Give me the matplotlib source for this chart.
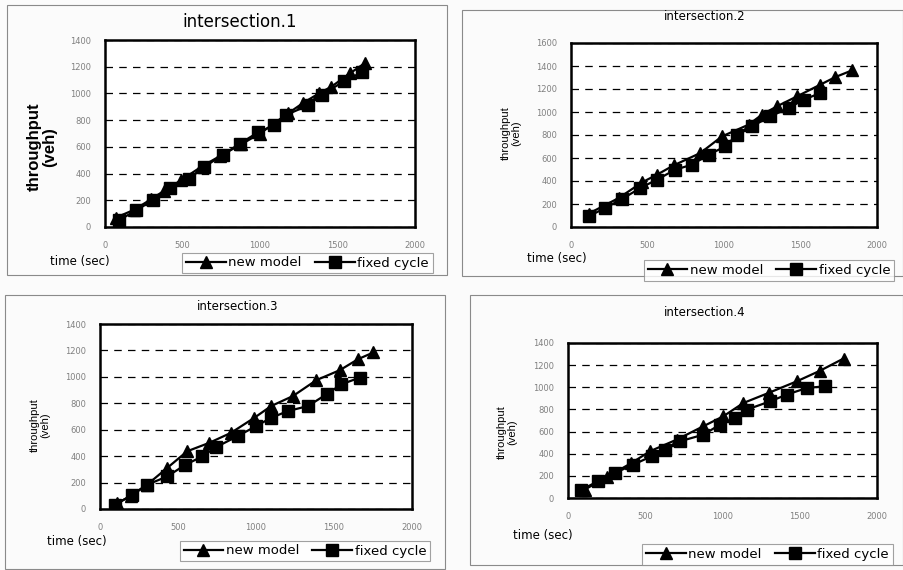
import matplotlib.pyplot as plt
from matplotlib.patches import Rectangle
from matplotlib.lines import Line2D

plt.rcParams['font.family'] = ['DejaVu Sans']

# -----------------------------
# data
# -----------------------------
t_new_1 = [70, 190, 300, 380, 490, 620, 740, 880, 1000, 1180, 1280, 1380, 1460, 1580, 1680]
q_new_1 = [70, 130, 210, 270, 350, 450, 530, 620, 700, 850, 930, 1000, 1050, 1150, 1230]
t_fix_1 = [90, 200, 310, 420, 540, 640, 760, 870, 990, 1090, 1170, 1310, 1400, 1540, 1660]
q_fix_1 = [50, 125, 200, 290, 360, 450, 540, 625, 710, 760, 840, 910, 990, 1090, 1160]

t_new_2 = [115, 312, 464, 562, 671, 845, 987, 1161, 1248, 1346, 1477, 1630, 1728, 1837]
q_new_2 = [116, 252, 388, 455, 536, 643, 788, 890, 977, 1049, 1136, 1238, 1304, 1362]
t_fix_2 = [115, 224, 333, 453, 562, 682, 791, 900, 1009, 1085, 1183, 1303, 1423, 1521, 1630]
q_fix_2 = [93, 165, 243, 339, 412, 499, 542, 629, 701, 803, 875, 962, 1035, 1107, 1165]

t_new_3 = [108, 200, 301, 430, 559, 699, 839, 989, 1097, 1237, 1387, 1538, 1656, 1753]
q_new_3 = [43, 100, 183, 310, 437, 500, 576, 690, 779, 855, 975, 1051, 1135, 1185]
t_fix_3 = [97, 204, 301, 430, 548, 656, 742, 882, 1000, 1097, 1204, 1333, 1452, 1548, 1667]
q_fix_3 = [30, 107, 183, 246, 335, 398, 467, 551, 627, 690, 741, 779, 868, 944, 995]

t_new_4 = [108, 250, 411, 530, 703, 876, 1005, 1135, 1300, 1481, 1632, 1784]
q_new_4 = [75, 190, 316, 422, 527, 648, 738, 858, 950, 1054, 1150, 1260]
t_fix_4 = [86, 195, 303, 422, 541, 627, 724, 876, 984, 1081, 1157, 1308, 1416, 1546, 1665]
q_fix_4 = [75, 151, 226, 301, 377, 437, 512, 572, 663, 723, 798, 873, 934, 994, 1009]

titles = ["intersection.1", "intersection.2", "intersection.3", "intersection.4"]
y_max = [1400, 1600, 1400, 1400]
x_ticks = [0, 500, 1000, 1500, 2000]

W, H = 904, 570
fig = plt.figure(figsize=(W / 100, H / 100), dpi=100)
fig.patch.set_facecolor('#fbfbfb')


def fx(px):
    return px / W


def fy(py):
    return 1 - py / H


# panel layout in pixels: outer frame, axes box, title, ylabel, xlabel, legend
panels = [
    dict(frame=(7, 5, 447, 275), ax=(105, 40, 415, 227),
         title=(240, 22, 12), ylab=(42, 147, 12, 'bold'), xlab=(80, 262, 8.5),
         leg=(167, 249, 448, 277)),
    dict(frame=(462, 10, 903, 276), ax=(571, 43, 877, 227),
         title=(705, 17, 8.5), ylab=(511, 133, 8, 'normal'), xlab=(557, 258, 8.5),
         leg=(633, 255, 905, 286)),
    dict(frame=(5, 295, 445, 569), ax=(100, 324, 412, 509),
         title=(238, 306, 8.5), ylab=(40, 425, 8, 'normal'), xlab=(77, 541, 8.5),
         leg=(165, 535, 445, 567)),
    dict(frame=(470, 295, 903, 565), ax=(568, 343, 877, 498),
         title=(705, 313, 8.5), ylab=(507, 432, 8, 'normal'), xlab=(543, 535, 8.5),
         leg=(630, 540, 905, 569)),
]

series = [
    (t_new_1, q_new_1, t_fix_1, q_fix_1),
    (t_new_2, q_new_2, t_fix_2, q_fix_2),
    (t_new_3, q_new_3, t_fix_3, q_fix_3),
    (t_new_4, q_new_4, t_fix_4, q_fix_4),
]

for i, p in enumerate(panels):
    x0, y0, x1, y1 = p['frame']
    fig.patches.append(Rectangle((fx(x0), fy(y1)), fx(x1 - x0), (y1 - y0) / H,
                                 transform=fig.transFigure, fill=False,
                                 edgecolor='#8a8a8a', linewidth=0.8))

    a0, b0, a1, b1 = p['ax']
    ax = fig.add_axes([fx(a0), fy(b1), fx(a1 - a0), (b1 - b0) / H])
    tn, qn, tf, qf = series[i]
    ax.plot(tn, qn, color='black', linewidth=1.6, marker='^', markersize=9)
    ax.plot(tf, qf, color='black', linewidth=1.6, marker='s', markersize=8.5)
    ax.set_xlim(0, 2000)
    ax.set_ylim(0, y_max[i])
    ax.set_xticks(x_ticks)
    ax.set_yticks(range(0, y_max[i] + 1, 200))
    ax.grid(axis='y', linestyle=(0, (6, 5)), color='black', linewidth=0.9)
    ax.set_axisbelow(True)
    ax.tick_params(length=0, labelsize=6, labelcolor='#808080', pad=10)
    for s in ax.spines.values():
        s.set_linewidth(1.8)

    tx, ty, ts = p['title']
    fig.text(fx(tx), fy(ty), titles[i], ha='center', va='center', fontsize=ts)
    lx, ly, ls, lw = p['ylab']
    fig.text(fx(lx), fy(ly), "throughput\n(veh)", ha='center', va='center',
             rotation=90, fontsize=ls, fontweight=lw, linespacing=1.1,
             family=['Liberation Sans', 'DejaVu Sans'])
    xx, xy, xs = p['xlab']
    fig.text(fx(xx), fy(xy), "time (sec)", ha='center', va='center', fontsize=xs)

    g0, h0, g1, h1 = p['leg']
    handles = [Line2D([], [], color='black', linewidth=1.6, marker='^', markersize=9),
               Line2D([], [], color='black', linewidth=1.6, marker='s', markersize=8.5)]
    leg = fig.legend(handles, ["new model", "fixed cycle"], ncol=2,
                     loc='center', bbox_to_anchor=(fx((g0 + g1) / 2), fy((h0 + h1) / 2)),
                     fontsize=9.5, frameon=True, fancybox=False, handlelength=3.0,
                     handletextpad=0.2, columnspacing=1.0, borderpad=0.3)
    leg.get_frame().set_edgecolor('#8a8a8a')
    leg.get_frame().set_linewidth(0.8)

fig.savefig("out.png", dpi=100, facecolor=fig.get_facecolor())
